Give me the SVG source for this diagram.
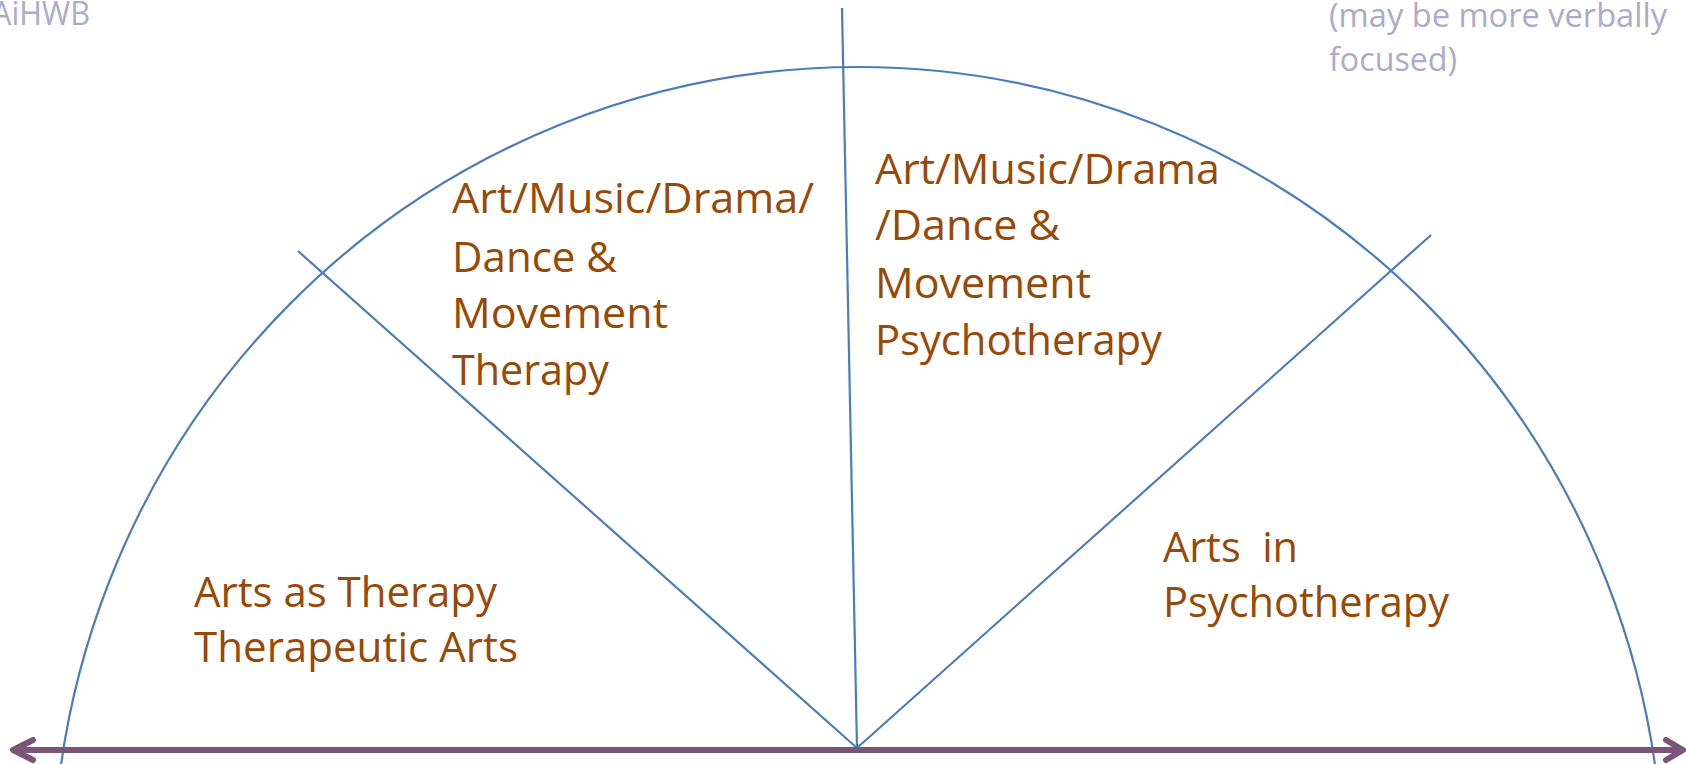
<svg xmlns="http://www.w3.org/2000/svg" width="1686" height="764" viewBox="0 0 1686 764">
  <style>
    .lbl { font-family: "Open Sans", "Noto Sans", "Liberation Sans", sans-serif; font-size: 42px; fill: #984807; white-space: pre; }
    .note { font-family: "Open Sans", "Noto Sans", "Liberation Sans", sans-serif; font-size: 32px; fill: #ABABCB; white-space: pre; }
    .seg { fill: none; stroke: #4A7EBB; stroke-width: 2.2; }
    .axis { fill: none; stroke: #7A5577; stroke-width: 6; stroke-linecap: round; stroke-linejoin: round; }
  </style>
  <rect x="0" y="0" width="1686" height="764" fill="#FFFFFF"/>

  <g id="connectors">
    <ellipse class="seg" cx="858" cy="880" rx="805" ry="813"/>
    <line class="seg" x1="842" y1="8" x2="857" y2="748"/>
    <line class="seg" x1="298" y1="251" x2="857" y2="748"/>
    <line class="seg" x1="1431" y1="235" x2="857" y2="748"/>
    <line class="axis" x1="14" y1="750" x2="1682" y2="750"/>
    <path class="axis" d="M33,740 L13,750 L33,760"/>
    <path class="axis" d="M1666,740 L1683,750 L1666,760"/>
  </g>

  <g id="note-left">
    <text class="note" x="-8" y="25" textLength="98" lengthAdjust="spacingAndGlyphs">AiHWB</text>
  </g>

  <g id="note-right">
    <text class="note" x="1329" y="27" textLength="338" lengthAdjust="spacingAndGlyphs">(may be more verbally</text>
    <text class="note" x="1329" y="70.5" textLength="128" lengthAdjust="spacingAndGlyphs">focused)</text>
  </g>

  <g id="arts-as-therapy">
    <text class="lbl" x="194" y="607" textLength="303" lengthAdjust="spacingAndGlyphs">Arts as Therapy</text>
    <text class="lbl" x="194" y="662" textLength="324" lengthAdjust="spacingAndGlyphs">Therapeutic Arts</text>
  </g>

  <g id="arts-therapy">
    <text class="lbl" x="452" y="213" textLength="362" lengthAdjust="spacingAndGlyphs">Art/Music/Drama/</text>
    <text class="lbl" x="452" y="272" textLength="165" lengthAdjust="spacingAndGlyphs">Dance &amp;</text>
    <text class="lbl" x="452" y="328" textLength="216" lengthAdjust="spacingAndGlyphs">Movement</text>
    <text class="lbl" x="452" y="385" textLength="157" lengthAdjust="spacingAndGlyphs">Therapy</text>
  </g>

  <g id="arts-psychotherapy">
    <text class="lbl" x="875" y="184" textLength="345" lengthAdjust="spacingAndGlyphs">Art/Music/Drama</text>
    <text class="lbl" x="875" y="240" textLength="185" lengthAdjust="spacingAndGlyphs">/Dance &amp;</text>
    <text class="lbl" x="875" y="298" textLength="216" lengthAdjust="spacingAndGlyphs">Movement</text>
    <text class="lbl" x="875" y="355" textLength="287" lengthAdjust="spacingAndGlyphs">Psychotherapy</text>
  </g>

  <g id="arts-in-psychotherapy">
    <text class="lbl" x="1163" y="562" textLength="135" lengthAdjust="spacingAndGlyphs" xml:space="preserve">Arts  in</text>
    <text class="lbl" x="1163" y="617" textLength="286" lengthAdjust="spacingAndGlyphs">Psychotherapy</text>
  </g>
</svg>
